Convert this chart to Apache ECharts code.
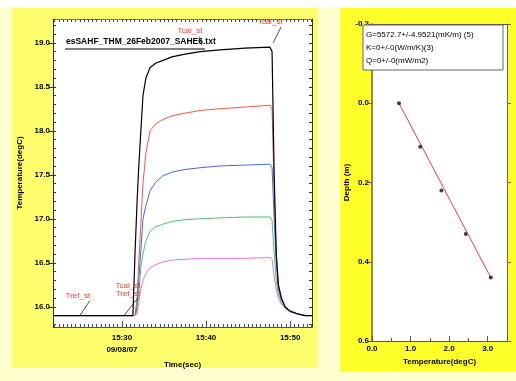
<!DOCTYPE html>
<html>
<head>
<meta charset="utf-8">
<script src="https://cdn.jsdelivr.net/npm/echarts@6/dist/echarts.min.js"></script>
<style>
  html, body { margin: 0; padding: 0; background: #ffffd0; }
  #chart { width: 516px; height: 381px; }
</style>
</head>
<body>
<div id="chart"></div>
<script>
// time in minutes after 15:00 (09/08/07)
var times = [21.8, 31.3, 31.55, 31.8, 32.0, 32.25, 32.5, 32.85, 33.35, 34.05, 34.9, 35.95, 37.5, 39.3, 41.65, 44.65, 47.6, 47.85, 48.1, 48.35, 48.6, 48.95, 49.4, 50.0, 50.85, 51.8, 52.6];
var tBlack = [15.9, 15.9, 16.6, 17.2, 17.6, 18.0, 18.4, 18.6, 18.72, 18.77, 18.8, 18.84, 18.87, 18.9, 18.92, 18.94, 18.95, 18.9, 17.5, 16.6, 16.25, 16.1, 16.0, 15.95, 15.92, 15.9, 15.9];
var tRed = [15.9, 15.9, 15.9, 16.1, 16.5, 16.95, 17.4, 17.75, 18.0, 18.08, 18.13, 18.17, 18.2, 18.23, 18.25, 18.27, 18.29, 18.25, 17.3, 16.6, 16.25, 16.1, 16.0, 15.95, 15.92, 15.9, 15.9];
var tBlue = [15.9, 15.9, 15.9, 16.0, 16.3, 16.65, 17.0, 17.15, 17.32, 17.42, 17.49, 17.53, 17.56, 17.58, 17.6, 17.61, 17.62, 17.58, 17.0, 16.5, 16.2, 16.08, 16.0, 15.95, 15.92, 15.9, 15.9];
var tGreen = [15.9, 15.9, 15.9, 15.95, 16.15, 16.45, 16.6, 16.75, 16.86, 16.91, 16.94, 16.97, 16.99, 17.0, 17.01, 17.02, 17.02, 16.98, 16.6, 16.3, 16.15, 16.05, 15.98, 15.94, 15.92, 15.9, 15.9];
var tPink = [15.9, 15.9, 15.9, 15.92, 16.05, 16.2, 16.3, 16.38, 16.44, 16.48, 16.51, 16.53, 16.54, 16.55, 16.55, 16.55, 16.56, 16.54, 16.35, 16.2, 16.1, 16.03, 15.98, 15.94, 15.92, 15.9, 15.9];

var timeTicks = [30, 40, 50];
var tempTicks = [16.0, 16.5, 17.0, 17.5, 18.0, 18.5, 19.0];

// depth profile
var profTemp = [0.7, 1.25, 1.8, 2.43, 3.08];
var profDepth = [0.0, 0.11, 0.22, 0.33, 0.44];

var notes = [
  { text: 'Tcal_st', at: [38.1, 19.14], from: [39.17, 19.07], to: [39.52, 18.97] },
  { text: 'Tcal_st', at: [47.62, 19.24], from: [48.93, 19.18], to: [47.98, 19.0] },
  { text: 'Tref_st', at: [24.76, 16.13], from: [26.19, 16.07], to: [25.0, 15.9] },
  { text: 'Tcal_st\nTref_st', at: [30.71, 16.19], from: [31.9, 16.1], to: [30.24, 15.9] }
];

var minorTime = [];
for (var m = 22; m <= 52.6; m += 0.5) minorTime.push(m);
var minorTemp = [];
for (var k = 158; k <= 192; k++) minorTemp.push(k / 10);

function zip(xs, ys) { return xs.map(function (x, i) { return [x, ys[i]]; }); }
function hhmm(v) { var mm = Math.round(v); return '15:' + (mm < 10 ? '0' + mm : mm); }

var font = 'Liberation Sans Narrow, Liberation Sans, sans-serif';
var lbl = { fontFamily: font, fontSize: 8, fontWeight: 'bold', color: '#000' };

var chart = echarts.init(document.getElementById('chart'));
chart.setOption({
  animation: false,
  textStyle: { fontFamily: font },
  graphic: [
    { type: 'rect', z: -10, silent: true, shape: { x: 0, y: 0, width: 516, height: 7 }, style: { fill: '#ffffff' } },
    { type: 'rect', z: -9, silent: true, shape: { x: 12, y: 8, width: 306, height: 360 }, style: { fill: '#ffff6e' } },
    { type: 'rect', z: -9, silent: true, shape: { x: 340, y: 8, width: 176, height: 364 }, style: { fill: '#ffff2a' } },
    { type: 'text', z: 10, left: 66, top: 37, style: { text: 'esSAHF_THM_26Feb2007_SAHE6.txt', font: 'bold 8.5px ' + font, fill: '#000' } },
    { type: 'line', z: 10, shape: { x1: 65, y1: 49, x2: 205, y2: 49 }, style: { stroke: '#000', lineWidth: 1 } },
    { type: 'rect', z: 10, shape: { x: 363, y: 25, width: 140, height: 45 }, style: { fill: '#fff', stroke: '#666', lineWidth: 1 } },
    { type: 'text', z: 11, left: 366, top: 31, style: { text: 'G=5572.7+/-4.9521(mK/m) (5)', font: '8px ' + font, fill: '#000' } },
    { type: 'text', z: 11, left: 366, top: 44, style: { text: 'K=0+/-0(W/m/K)(3)', font: '8px ' + font, fill: '#000' } },
    { type: 'text', z: 11, left: 366, top: 57, style: { text: 'Q=0+/-0(mW/m2)', font: '8px ' + font, fill: '#000' } }
  ],
  grid: [
    { left: 53, top: 19, width: 259, height: 308, show: true, backgroundColor: '#fff', borderWidth: 0 },
    { left: 372, top: 24, width: 135, height: 317, show: true, backgroundColor: '#fff', borderWidth: 0 }
  ],
  xAxis: [
    {
      gridIndex: 0, type: 'value', position: 'bottom', min: 21.8, max: 52.6,
      name: 'Time(sec)', nameLocation: 'middle', nameGap: 27, nameTextStyle: lbl,
      axisLine: { onZero: false, lineStyle: { color: '#3a48c8', width: 1 } },
      axisTick: { customValues: timeTicks, inside: true, length: 6, lineStyle: { color: '#3a48c8' } },
      axisLabel: Object.assign({ customValues: timeTicks, margin: 5, lineHeight: 12,
        formatter: function (v) { return v === 30 ? hhmm(v) + '\n09/08/07' : hhmm(v); } }, lbl),
      splitLine: { show: false }
    },
    {
      gridIndex: 0, type: 'value', position: 'bottom', min: 21.8, max: 52.6,
      axisLine: { show: false, onZero: false },
      axisTick: { customValues: minorTime, inside: true, length: 3, lineStyle: { color: '#3a48c8' } },
      axisLabel: { show: false }, splitLine: { show: false }
    },
    {
      gridIndex: 0, type: 'value', position: 'top', min: 21.8, max: 52.6,
      axisLine: { onZero: false, lineStyle: { color: '#3a48c8', width: 1, type: 'dotted' } },
      axisTick: { customValues: minorTime, inside: true, length: 3, lineStyle: { color: '#3a48c8' } },
      axisLabel: { show: false }, splitLine: { show: false }
    },
    {
      gridIndex: 1, type: 'value', position: 'bottom', min: 0, max: 3.5, interval: 1,
      name: 'Temperature(degC)', nameLocation: 'middle', nameGap: 16, nameTextStyle: lbl,
      axisLine: { onZero: false, lineStyle: { color: '#555', width: 1 } },
      axisTick: { inside: true, length: 5, lineStyle: { color: '#555' } },
      minorTick: { show: true, splitNumber: 2, length: 3, lineStyle: { color: '#555' } },
      axisLabel: Object.assign({ margin: 4, formatter: function (v) { return v > 3.2 ? '' : v.toFixed(1); } }, lbl),
      splitLine: { show: false }
    },
    {
      gridIndex: 1, type: 'value', position: 'top', min: 0, max: 3.5, interval: 1,
      axisLine: { onZero: false, lineStyle: { color: '#555', width: 1 } },
      axisTick: { inside: true, length: 5, lineStyle: { color: '#555' } },
      minorTick: { show: true, splitNumber: 2, length: 3, lineStyle: { color: '#555' } },
      axisLabel: { show: false }, splitLine: { show: false }
    }
  ],
  yAxis: [
    {
      gridIndex: 0, type: 'value', position: 'left', min: 15.77, max: 19.27,
      name: 'Temperature(degC)', nameLocation: 'middle', nameGap: 25, nameTextStyle: lbl,
      axisLine: { show: true, onZero: false, lineStyle: { color: '#333', width: 1 } },
      axisTick: { customValues: tempTicks, length: 4, lineStyle: { color: '#333' } },
      axisLabel: Object.assign({ customValues: tempTicks, margin: 3, formatter: function (v) { return v.toFixed(1); } }, lbl),
      splitLine: { show: false }
    },
    {
      gridIndex: 0, type: 'value', position: 'left', min: 15.77, max: 19.27,
      axisLine: { show: false, onZero: false },
      axisTick: { customValues: minorTemp, inside: true, length: 3, lineStyle: { color: '#333' } },
      axisLabel: { show: false }, splitLine: { show: false }
    },
    {
      gridIndex: 0, type: 'value', position: 'right', min: 15.77, max: 19.27,
      axisLine: { show: true, onZero: false, lineStyle: { color: '#333', width: 1 } },
      axisTick: { customValues: minorTemp, inside: true, length: 3, lineStyle: { color: '#333' } },
      axisLabel: { show: false }, splitLine: { show: false }
    },
    {
      gridIndex: 1, type: 'value', position: 'left', inverse: true, min: -0.2, max: 0.6, interval: 0.2,
      name: 'Depth (m)', nameLocation: 'middle', nameGap: 21, nameTextStyle: lbl,
      axisLine: { show: true, onZero: false, lineStyle: { color: '#6b6b00', width: 1.5 } },
      axisTick: { length: 4, lineStyle: { color: '#666' } },
      axisLabel: Object.assign({ margin: 3, formatter: function (v) { return v.toFixed(1); } }, lbl),
      splitLine: { show: false }
    },
    {
      gridIndex: 1, type: 'value', position: 'right', inverse: true, min: -0.2, max: 0.6, interval: 0.2,
      axisLine: { show: true, onZero: false, lineStyle: { color: '#666', width: 1 } },
      axisTick: { length: 4, lineStyle: { color: '#666' } },
      axisLabel: { show: false }, splitLine: { show: false }
    }
  ],
  series: [
    {
      type: 'line', xAxisIndex: 0, yAxisIndex: 0, showSymbol: false, z: 5,
      data: zip(times, tBlack), lineStyle: { color: '#000', width: 1.2 },
      markLine: {
        silent: true, symbol: 'none', label: { show: false },
        lineStyle: { color: '#222', width: 0.8, type: 'solid' },
        data: notes.map(function (n) { return [{ coord: n.from }, { coord: n.to }]; })
      },
      markPoint: {
        silent: true, symbol: 'circle', symbolSize: 0,
        label: { show: true, position: 'inside', color: '#f04030', fontSize: 8, lineHeight: 8, fontFamily: font,
          formatter: function (p) { return p.name; } },
        data: notes.map(function (n) { return { name: n.text, coord: n.at }; })
      }
    },
    { type: 'line', xAxisIndex: 0, yAxisIndex: 0, showSymbol: false, data: zip(times, tRed), lineStyle: { color: '#f05a46', width: 1 } },
    { type: 'line', xAxisIndex: 0, yAxisIndex: 0, showSymbol: false, data: zip(times, tBlue), lineStyle: { color: '#4668dc', width: 1 } },
    { type: 'line', xAxisIndex: 0, yAxisIndex: 0, showSymbol: false, data: zip(times, tGreen), lineStyle: { color: '#4cc46e', width: 1 } },
    { type: 'line', xAxisIndex: 0, yAxisIndex: 0, showSymbol: false, data: zip(times, tPink), lineStyle: { color: '#e07ae0', width: 1 } },
    {
      type: 'line', xAxisIndex: 3, yAxisIndex: 3, showSymbol: false,
      data: [[profTemp[0], profDepth[0]], [profTemp[profTemp.length - 1], profDepth[profDepth.length - 1]]],
      lineStyle: { color: '#e04040', width: 1 }
    },
    {
      type: 'scatter', xAxisIndex: 3, yAxisIndex: 3, symbol: 'circle', symbolSize: 4, z: 6,
      data: zip(profTemp, profDepth), itemStyle: { color: '#111' }
    }
  ]
});
</script>
</body>
</html>
